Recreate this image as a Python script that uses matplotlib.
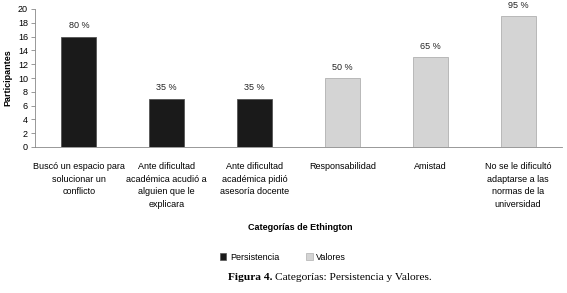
import matplotlib
matplotlib.use("Agg")
import matplotlib.pyplot as plt
from matplotlib.patches import Patch

categorias = ["Buscó un espacio para\nsolucionar un\nconflicto",
              "Ante dificultad\nacadémica acudió a\nalguien que le\nexplicara",
              "Ante dificultad\nacadémica pidió\nasesoría docente",
              "Responsabilidad",
              "Amistad",
              "No se le dificultó\nadaptarse a las\nnormas de la\nuniversidad"]
participantes = [16, 7, 7, 10, 13, 19]
porcentajes = ["80 %", "35 %", "35 %", "50 %", "65 %", "95 %"]
grupo = ["Persistencia", "Persistencia", "Persistencia", "Valores", "Valores", "Valores"]
colores = {"Persistencia": "#1a1a1a", "Valores": "#d4d4d4"}

plt.rcParams['font.family'] = ['Liberation Sans', 'DejaVu Sans']

fig = plt.figure(figsize=(5.67, 2.93), dpi=100)
ax = fig.add_axes([35/567, 1 - 147/293, 527/567, 138/293])

x = range(len(categorias))
bars = ax.bar(x, participantes, width=0.4,
              color=[colores[g] for g in grupo],
              edgecolor=["#555555" if g == "Persistencia" else "#b0b0b0" for g in grupo],
              linewidth=0.6)
for b, p in zip(bars, porcentajes):
    ax.text(b.get_x() + b.get_width() / 2, b.get_height() + 0.9, p,
            ha="center", va="bottom", fontsize=6.5, color="#222222")

ax.set_xlim(-0.5, 5.5)
ax.set_ylim(0, 20)
ax.set_yticks(range(0, 21, 2))
ax.tick_params(axis="y", labelsize=6.5, length=3, width=0.6, color="#888888", pad=2)
ax.set_xticks(list(x))
ax.set_xticklabels(categorias, fontsize=6.5, va="top", linespacing=1.5)
ax.tick_params(axis="x", length=0, pad=11)
for s in ["top", "right"]:
    ax.spines[s].set_visible(False)
ax.spines["left"].set_color("#888888")
ax.spines["bottom"].set_color("#888888")
ax.spines["left"].set_linewidth(0.6)
ax.spines["bottom"].set_linewidth(0.6)

ax.set_ylabel("Participantes", fontsize=6.5, fontweight="bold", labelpad=4)
fig.text(300/567, 1 - 227/293, "Categorías de Ethington", ha="center", va="center",
         fontsize=6.5, fontweight="bold")

handles = [Patch(facecolor=colores["Persistencia"], edgecolor="#555555", linewidth=0.5),
           Patch(facecolor=colores["Valores"], edgecolor="#b0b0b0", linewidth=0.5)]
fig.legend(handles, ["Persistencia", "Valores"], loc="center",
           bbox_to_anchor=(283/567, 1 - 257/293), ncol=2, frameon=False,
           fontsize=6.5, handlelength=0.7, handleheight=0.7, columnspacing=3,
           handletextpad=0.4)

fig.text(272/567, 1 - 277/293, "Figura 4.", ha="right", va="center",
         fontsize=8.2, fontweight="bold", family="Liberation Serif")
fig.text(275/567, 1 - 277/293, "Categorías: Persistencia y Valores.", ha="left", va="center",
         fontsize=8.2, family="Liberation Serif")

fig.savefig("out.png", dpi=100)
